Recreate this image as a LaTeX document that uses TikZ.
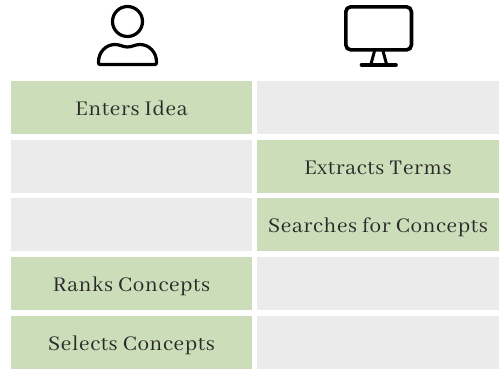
\documentclass[tikz,border=0pt]{standalone}
\usepackage{fontspec}
\setmainfont[LetterSpace=3]{Abhaya Libre}
\definecolor{cellgreen}{HTML}{CBDDB9}
\definecolor{cellgray}{HTML}{EBEBEB}
\definecolor{txt}{HTML}{2A2A2A}
\tikzset{
  cellbase/.style={minimum height=53pt,inner sep=0pt,text height=20pt,text depth=4pt,text=txt,font=\fontsize{23}{27}\selectfont},
  lcell/.style={cellbase,minimum width=241pt},
  rcell/.style={cellbase,minimum width=242pt},
  act/.style={fill=cellgreen},
  idle/.style={fill=cellgray},
  icon/.style={draw=black,line width=3.2pt,line join=round,line cap=round}
}
\begin{document}
\begin{tikzpicture}[x=1pt,y=-1pt]
\useasboundingbox (0,0) rectangle (501,370);
\fill[white] (0,0) rectangle (501,370);
\node[lcell,act] (l1) at (131.5,107.5) {Enters Idea};
\node[lcell,idle] (l2) at (131.5,166.5) {};
\node[lcell,idle] (l3) at (131.5,224.5) {};
\node[lcell,act] (l4) at (131.5,283.5) {Ranks Concepts};
\node[lcell,act] (l5) at (131.5,342.5) {Selects Concepts};
\node[rcell,idle] (r1) at (378,107.5) {};
\node[rcell,act] (r2) at (378,166.5) {Extracts Terms};
\node[rcell,act] (r3) at (378,224.5) {Searches for Concepts};
\node[rcell,idle] (r4) at (378,283.5) {};
\node[rcell,idle] (r5) at (378,342.5) {};
% person
\draw[icon] (127.5,21.5) circle (15);
\draw[icon] (100,64.5) -- (155,64.5) .. controls (156.5,64.5) and (156.5,63.5) .. (156.5,62)
  .. controls (156.5,52) and (149,44.5) .. (140,44.5)
  .. controls (135,44.5) and (132,47) .. (127.5,47)
  .. controls (123,47) and (120,44.5) .. (115,44.5)
  .. controls (106,44.5) and (98.5,52) .. (98.5,62)
  .. controls (98.5,63.5) and (98.5,64.5) .. (100,64.5) -- cycle;
% monitor
\draw[icon,line width=3.6pt,rounded corners=5pt] (345.8,6.8) rectangle (411.5,49.9);
\draw[icon,line width=3pt,line cap=butt] (374.5,51) -- (371,64);
\draw[icon,line width=3pt,line cap=butt] (383,51) -- (386.5,64);
\draw[icon,line width=3.6pt] (361.5,65) -- (396,65);
\end{tikzpicture}
\end{document}
